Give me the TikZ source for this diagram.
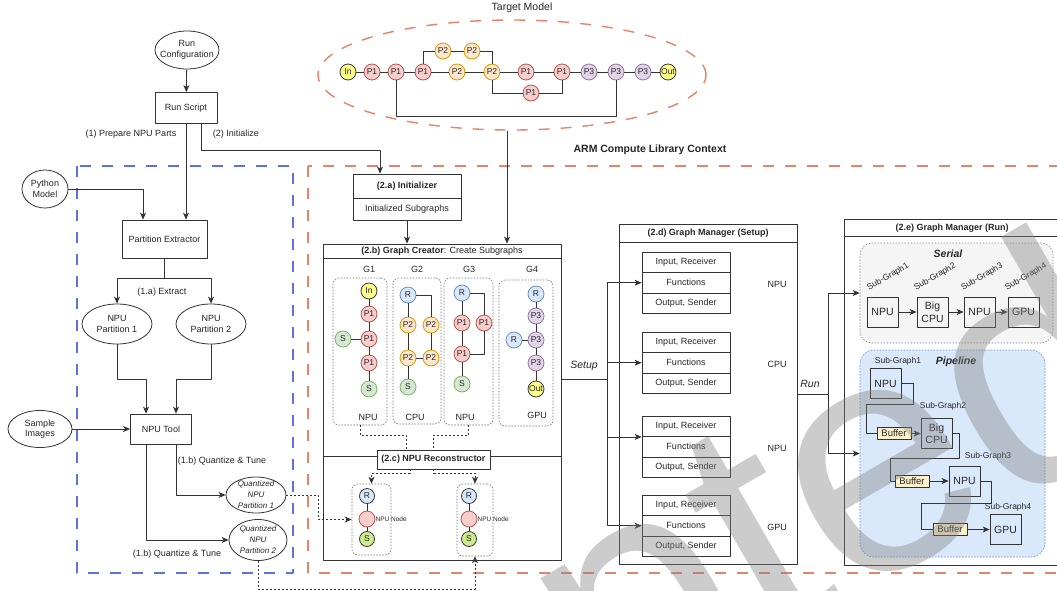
\documentclass[tikz,border=0pt]{standalone}
\usepackage{fontspec}
\setmainfont{Liberation Sans}
\usetikzlibrary{arrows.meta,calc,shapes.geometric}

\definecolor{ln}{HTML}{333333}
\definecolor{salmon}{HTML}{E8826A}
\definecolor{blued}{HTML}{5F70E2}
\definecolor{pOneF}{HTML}{F8CECC}\definecolor{pOneD}{HTML}{B85450}
\definecolor{pTwoF}{HTML}{FFE6CC}\definecolor{pTwoD}{HTML}{D79B00}
\definecolor{pThrF}{HTML}{E1D5E7}\definecolor{pThrD}{HTML}{9673A6}
\definecolor{rF}{HTML}{DAE8FC}\definecolor{rD}{HTML}{6C8EBF}
\definecolor{sF}{HTML}{D5E8D4}\definecolor{sD}{HTML}{82B366}
\definecolor{ioF}{HTML}{FFFF88}\definecolor{ioD}{HTML}{36393D}
\definecolor{limeF}{HTML}{CDEB8B}
\definecolor{bufF}{HTML}{FFF2CC}
\definecolor{grayF}{HTML}{F5F5F5}

\newcommand\fsz[2]{\fontsize{#1}{#2}\selectfont}

\tikzset{
  txt/.style={font=\fsz{9}{10.5}, text=black!85, inner sep=1pt},
  box/.style={txt, draw=ln, fill=white, rectangle, line width=0.8pt},
  oval/.style={draw=ln, fill=white, ellipse, inner sep=0pt, line width=0.8pt},
  wire/.style={draw=ln, line width=0.8pt},
  arr/.style={wire, -{Stealth[length=7pt,width=6pt,inset=2pt]}},
  dotwire/.style={draw=ln, line width=0.7pt, dash pattern=on 2pt off 2pt},
  dotarr/.style={dotwire, -{Stealth[length=7pt,width=6pt,inset=2pt]}},
  cir/.style={circle, minimum size=16pt, inner sep=0pt, line width=0.8pt, font=\fsz{8.5}{9}, text=black!85},
  ioc/.style={cir, draw=ioD, fill=ioF},
  pa/.style={cir, draw=pOneD, fill=pOneF},
  pb/.style={cir, draw=pTwoD, fill=pTwoF},
  pc/.style={cir, draw=pThrD, fill=pThrF},
  rc/.style={cir, draw=rD, fill=rF},
  sc/.style={cir, draw=sD, fill=sF},
  gbox/.style={draw=black!55, dash pattern=on 1.5pt off 1.5pt, rounded corners=6pt, line width=0.6pt, rectangle, inner sep=0pt},
  ctx/.style={line width=1.4pt, dash pattern=on 11pt off 11pt},
  hw/.style={box, minimum width=31pt, minimum height=30pt, inner sep=0pt, fill=grayF, font=\fsz{10.5}{12.5}, align=center},
  buf/.style={box, fill=bufF, minimum width=34pt, minimum height=12pt, inner sep=0pt, font=\fsz{9.5}{10}},
  gmrow/.style={box, minimum width=88pt, minimum height=20.5pt, inner sep=0pt},
  sgl/.style={txt, font=\fsz{8.5}{9}},
}

\begin{document}
\begin{tikzpicture}[x=1pt,y=-1pt,line join=round]
\useasboundingbox (0,0) rectangle (1057,590);
\clip (0,0) rectangle (1057,590);
\fill[white] (0,0) rectangle (1057,590);

% ---------- context frames ----------
\draw[blued, ctx] (77,166) rectangle (293,573);
\draw[salmon, ctx] (308,166) rectangle (1080,573);
\node[txt, font=\fsz{10.5}{12}\bfseries] (arml) at (650,150) {ARM Compute Library Context};

% ---------- target model ----------
\node[txt, font=\fsz{10.5}{12}] (tmtitle) at (522,8) {Target Model};
\node[ellipse, draw=salmon, ctx, minimum width=388pt, minimum height=110pt, inner sep=0pt] (tmell) at (512,75) {};

\node[ioc] (tIn) at (348,72) {In};
\node[pa] (t1) at (372,72) {P1};
\node[pa] (t2) at (396,72) {P1};
\node[pa] (t3) at (423,72) {P1};
\node[pb] (t4) at (457,72) {P2};
\node[pb] (t5) at (443,51) {P2};
\node[pb] (t6) at (472,51) {P2};
\node[pb] (t7) at (492,72) {P2};
\node[pa] (t8) at (526,72) {P1};
\node[pa] (t9) at (562,72) {P1};
\node[pa] (t10) at (531,93) {P1};
\node[pc] (t11) at (589,72) {P3};
\node[pc] (t12) at (616,72) {P3};
\node[pc] (t13) at (643,72) {P3};
\node[ioc] (tOut) at (668,72) {Out};

\draw[wire] (tIn) -- (t1) -- (t2) -- (t3) -- (t4) -- (t7) -- (t8) -- (t9) -- (t11) -- (t12) -- (t13) -- (tOut);
\draw[wire] (t3) |- (t5);
\draw[wire] (t5) -- (t6);
\draw[wire] (t6) -| (t7);
\draw[wire] (t7) |- (t10);
\draw[wire] (t10) -| (t9);
\draw[wire] (t2.south) -- ++(0,36) -| (t12.south);

% ---------- preparation side ----------
\node[oval, minimum width=64pt, minimum height=38pt] (runcfg) at (187,50) {};
\node[txt, align=center] at (runcfg) {Run\\Configuration};
\node[box, minimum width=62pt, minimum height=31pt] (runscr) at (186,108) {Run Script};
\node[oval, minimum width=46pt, minimum height=38pt] (pymod) at (45,189) {};
\node[txt, align=center] at (pymod) {Python\\Model};
\node[box, minimum width=85pt, minimum height=38pt] (pext) at (164.5,239) {Partition Extractor};
\node[oval, minimum width=70pt, minimum height=40pt] (np1) at (117,324) {};
\node[txt, align=center] at (np1) {NPU\\Partition 1};
\node[oval, minimum width=70pt, minimum height=40pt] (np2) at (211,324) {};
\node[txt, align=center] at (np2) {NPU\\Partition 2};
\node[box, minimum width=61pt, minimum height=30pt] (npt) at (161,429) {NPU Tool};
\node[oval, minimum width=64pt, minimum height=37pt] (simg) at (40,429) {};
\node[txt, align=center] at (simg) {Sample\\Images};
\node[oval, minimum width=60pt, minimum height=36pt] (q1) at (256,495) {};
\node[txt, align=center, font=\fsz{8}{11}\itshape] at (q1) {Quantized\\NPU\\Partition 1};
\node[oval, minimum width=58pt, minimum height=41pt] (q2) at (258,540) {};
\node[txt, align=center, font=\fsz{8}{11}\itshape] at (q2) {Quantized\\NPU\\Partition 2};

\node[txt] at (131,134) {(1) Prepare NPU Parts};
\node[txt] at (236,134) {(2) Initialize};
\node[txt] at (162,292) {(1.a) Extract};
\node[txt] at (222,461) {(1.b) Quantize \& Tune};
\node[txt] at (177,554) {(1.b) Quantize \& Tune};

% ---------- initializer and graph creator ----------
\node[box, minimum width=108pt, minimum height=24pt, font=\fsz{9}{10}\bfseries] (initH) at (407,186) {(2.a) Initializer};
\node[box, minimum width=108pt, minimum height=22pt] (initB) at (407,209) {Initialized Subgraphs};

\node[box, minimum width=238pt, minimum height=316pt] (gc) at (442,402) {};
\draw[wire] ([yshift=-15pt]gc.north west) -- ([yshift=-15pt]gc.north east);
\node[txt] at (442,251.5) {\textbf{(2.b) Graph Creator}: Create Subgraphs};

\draw[arr] (runcfg) -- (runscr);
\draw[arr] (runscr.south) -- (runscr.south |- pext.north);
\draw[arr] ([xshift=15pt]runscr.south) -- ++(0,26) -| ([xshift=-27pt]initH.north);
\draw[arr] (pymod.east) -| ([xshift=-21.5pt]pext.north);
\draw[wire] (pext.south) -- ++(0,20) coordinate (exsplit);
\draw[arr] (exsplit) -| (np1.north);
\draw[arr] (exsplit) -| (np2.north);
\draw[arr] (np1.south) -- ++(0,35) -| ([xshift=-15pt]npt.north);
\draw[arr] (np2.south) -- ++(0,35) -| ([xshift=15pt]npt.north);
\draw[arr] (simg) -- (npt);
\draw[arr] ([xshift=15pt]npt.south) |- (q1.west);
\draw[arr] ([xshift=-15pt]npt.south) |- (q2.west);
\draw[arr] (initB.south) -- (initB.south |- gc.north);
\draw[arr] ([xshift=-5pt]tmell.south) -- ([xshift=-5pt]tmell.south |- gc.north);

% subgraph groups
\node[gbox, minimum width=54pt, minimum height=147pt] (g1) at (360,351.5) {};
\node[gbox, minimum width=48pt, minimum height=146pt] (g2) at (417,351) {};
\node[gbox, minimum width=49pt, minimum height=147pt] (g3) at (468.5,351.5) {};
\node[gbox, minimum width=54pt, minimum height=146pt] (g4) at (526,353) {};
\node[txt] at (369,269) {G1};
\node[txt] at (417,269) {G2};
\node[txt] at (469,269) {G3};
\node[txt] at (532,269) {G4};
\node[txt] at (368,417) {NPU};
\node[txt] at (415,417) {CPU};
\node[txt] at (465,417) {NPU};
\node[txt] at (537,415) {GPU};

\node[ioc] (a1) at (369,291) {In};
\node[pa] (a2) at (369,314) {P1};
\node[pa] (a3) at (369,339) {P1};
\node[sc] (a4) at (343,339) {S};
\node[pa] (a5) at (369,363) {P1};
\node[sc] (a6) at (369,389) {S};
\draw[wire] (a1) -- (a2) -- (a3) -- (a5) -- (a6);
\draw[wire] (a4) -- (a3);

\node[rc] (b1) at (408,295) {R};
\node[pb] (b2) at (408,325) {P2};
\node[pb] (b3) at (431,325) {P2};
\node[pb] (b4) at (408,358) {P2};
\node[pb] (b5) at (431,358) {P2};
\node[sc] (b6) at (408,387) {S};
\draw[wire] (b1) -- (b2) -- (b4) -- (b6);
\draw[wire] (b1) -| (b3);
\draw[wire] (b3) -- (b5);
\draw[wire] (b4) -- (b5);

\node[rc] (c1) at (462,293) {R};
\node[pa] (c2) at (462,323) {P1};
\node[pa] (c3) at (484,323) {P1};
\node[pa] (c4) at (462,354) {P1};
\node[sc] (c5) at (462,384) {S};
\draw[wire] (c1) -- (c2) -- (c4) -- (c5);
\draw[wire] (c1) -| (c3);
\draw[wire] (c3) |- (c4);

\node[rc] (d1) at (536,294) {R};
\node[pc] (d2) at (536,316) {P3};
\node[pc] (d3) at (536,340) {P3};
\node[rc] (d4) at (514,340) {R};
\node[pc] (d5) at (536,363) {P3};
\node[ioc] (d6) at (536,389) {Out};
\draw[wire] (d1) -- (d2) -- (d3) -- (d5) -- (d6);
\draw[wire] (d4) -- (d3);

% ---------- NPU reconstructor ----------
\draw[wire] ([yshift=-213pt]gc.north west) -- ([yshift=-213pt]gc.north east);
\node[box, font=\fsz{9}{10}\bfseries, minimum width=113pt, minimum height=19pt] (rcb) at (433.5,459.5) {(2.c) NPU Reconstructor};
\draw[dotwire] (g1.south) -- ++(0,10) -| ([xshift=-27.5pt]rcb.north);
\draw[dotwire] (g3.south) -- ++(0,10) -| (rcb.north);

\node[gbox, minimum width=39pt, minimum height=71pt] (rc1) at (371.5,519.5) {};
\node[gbox, minimum width=36pt, minimum height=72pt] (rc2) at (475,520) {};
\node[cir, minimum size=15pt, draw=ioD, fill=rF] (e1) at (367,496) {R};
\node[cir, draw=pOneD, fill=pOneF] (e2) at (367,519) {};
\node[cir, minimum size=15pt, draw=ioD, fill=limeF] (e3) at (367,539) {S};
\node[font=\fsz{6.5}{7}, text=black!85, anchor=west, inner sep=0pt] at (e2.east) {NPU Node};
\draw[wire] (e1) -- (e2) -- (e3);
\node[cir, minimum size=15pt, draw=ioD, fill=rF] (f1) at (469,496) {R};
\node[cir, draw=pOneD, fill=pOneF] (f2) at (469,519) {};
\node[cir, minimum size=15pt, draw=ioD, fill=limeF] (f3) at (469,539) {S};
\node[font=\fsz{6.5}{7}, text=black!85, anchor=west, inner sep=0pt] at (f2.east) {NPU Node};
\draw[wire] (f1) -- (f2) -- (f3);

\draw[dotarr] ([xshift=-23.5pt]rcb.south) -- ++(0,4) -| (rc1.north);
\draw[dotarr] (rcb.south) -- ++(0,4) -| (rc2.north);
\draw[dotarr] (q1.east) -- ++(32,0) |- (rc1.west);
\draw[dotarr] (q2.south) -- ++(0,28) -| (rc2.south);

% ---------- graph manager (setup) ----------
\node[box, minimum width=178pt, minimum height=340pt] (gms) at (708,394) {};
\draw[wire] ([yshift=-19pt]gms.north west) -- ([yshift=-19pt]gms.north east);
\node[txt, font=\fsz{9}{10}\bfseries] at (708,233.5) {(2.d) Graph Manager (Setup)};
\foreach \k/\yy/\dev in {1/252/NPU,2/332/CPU,3/416/NPU,4/495/GPU}{
  \node[gmrow] (in\k) at (686,\yy+10.25) {Input, Receiver};
  \node[gmrow] (fn\k) at (686,\yy+30.75) {Functions};
  \node[gmrow] (out\k) at (686,\yy+51.25) {Output, Sender};
  \node[txt] at (777,\yy+32) {\dev};
}
\draw[wire] ([yshift=23pt]gc.east) -- ++(46,0) coordinate (sj);
\draw[arr] (sj) |- (fn1.west);
\draw[arr] (sj) |- (fn2.west);
\draw[arr] (sj) |- (in3.south west);
\draw[arr] (sj) |- (fn4.west);
\node[txt, font=\fsz{10.5}{12}\itshape] at (584,366) {Setup};

% ---------- graph manager (run) ----------
\node[box, minimum width=218pt, minimum height=346pt] (gmr) at (953,392) {};
\draw[wire] ([yshift=-18pt]gmr.north west) -- ([yshift=-18pt]gmr.north east);
\node[txt, font=\fsz{9}{10}\bfseries] at (952,228) {(2.e) Graph Manager (Run)};

\node[draw=black!45, dash pattern=on 1.5pt off 1.5pt, fill=grayF, rounded corners=12pt, minimum width=193pt, minimum height=100pt, line width=0.6pt, inner sep=0pt] (ser) at (956.5,293) {};
\node[txt, font=\fsz{10.5}{12}\bfseries\itshape] at (948,254) {Serial};
\node[hw] (s1) at (882.5,312) {NPU};
\node[hw] (s2) at (932.5,312) {Big\\CPU};
\node[hw] (s3) at (979.5,312) {NPU};
\node[hw] (s4) at (1023.5,312) {GPU};
\draw[arr] (s1) -- (s2);
\draw[arr] (s2) -- (s3);
\draw[arr] (s3) -- (s4);
\node[sgl, rotate=30] at (888,277) {Sub-Graph1};
\node[sgl, rotate=30] at (935,277) {Sub-Graph2};
\node[sgl, rotate=30] at (982,277) {Sub-Graph3};
\node[sgl, rotate=30] at (1026,277) {Sub-Graph4};

\node[draw=rD, dash pattern=on 1.5pt off 1.5pt, fill=rF, rounded corners=14pt, minimum width=185pt, minimum height=207pt, line width=0.6pt, inner sep=0pt] (pip) at (952.5,453.5) {};
\node[txt, font=\fsz{10.5}{12}\bfseries\itshape] at (956,362) {Pipeline};
\node[sgl] at (898,361) {Sub-Graph1};
\node[hw, fill=rF] (pp1) at (885.5,383.5) {NPU};
\node[hw, fill=rF] (pp2) at (936.5,433.5) {Big\\CPU};
\node[hw, fill=rF] (pp3) at (964.5,481) {NPU};
\node[hw, fill=rF] (pp4) at (1005.5,529.5) {GPU};
\node[buf] (bf1) at (894,433.5) {Buffer};
\node[buf] (bf2) at (912,481) {Buffer};
\node[buf] (bf3) at (950,529.5) {Buffer};
\draw[wire] (pp1.east) -| ++(12,20.5) -| ([xshift=-10pt]bf1.west) -- (bf1.west);
\draw[arr] (bf1) -- (pp2);
\draw[wire] (pp2.east) -| ++(7,24.5) -| ([xshift=-4pt]bf2.west) -- (bf2.west);
\draw[arr] (bf2) -- (pp3);
\draw[wire] (pp3.east) -| ++(11,22) -| ([xshift=-11pt]bf3.west) -- (bf3.west);
\draw[arr] (bf3) -- (pp4);
\node[sgl] at (943,406) {Sub-Graph2};
\node[sgl] at (988,456) {Sub-Graph3};
\node[sgl] at (1008,507) {Sub-Graph4};

\draw[wire] (gms.east) -- ++(31,0) coordinate (rj);
\draw[arr] (rj) |- (ser.west);
\draw[arr] (rj) |- (pip.west);
\node[txt, font=\fsz{10.5}{12}\itshape] at (810,384) {Run};

% ---------- watermark ----------
\node[rotate=30, anchor=base east, font=\fsz{330}{330}, text=gray, opacity=0.4, inner sep=0pt] (wm) at (1166,419) {Accepted};
\end{tikzpicture}
\end{document}
